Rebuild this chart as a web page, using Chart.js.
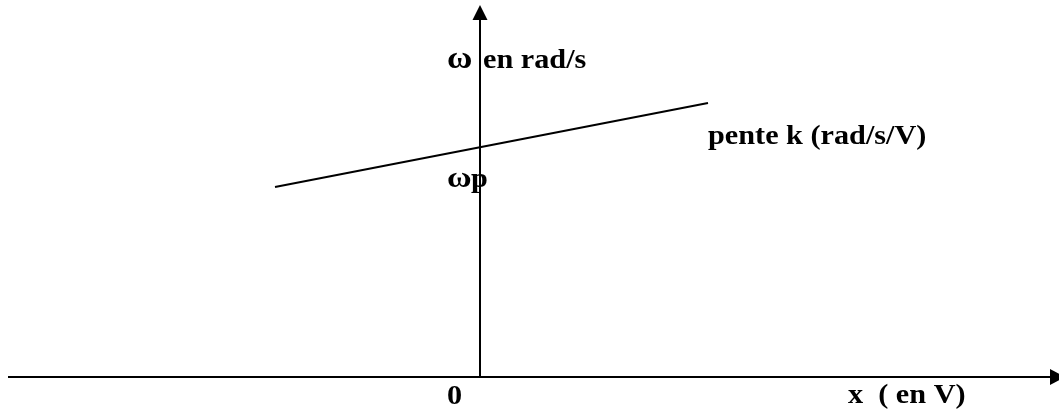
<!DOCTYPE html>
<html>
<head>
<meta charset="utf-8">
<title>ω en fonction de x</title>
<script src="https://cdn.jsdelivr.net/npm/chart.js@4/dist/chart.umd.min.js"></script>
<style>
  html, body { margin: 0; padding: 0; background: #fff; }
  canvas { display: block; }
</style>
</head>
<body>
<canvas id="graph" width="1059" height="412"></canvas>
<script>
// characteristic: omega = omegaP + k * x
const lineX = [-20.5, 22.8];
const lineY = [19.0, 27.4];

// axes (value units), arrow tips just past the ends
const xAxisRange = [-47.2, 57.0];
const yAxisRange = [0, 35.7];
const xArrowTip = 58.5;
const yArrowTip = 37.2;

// text labels: [text, x, y, font size]
const labels = [
  ["ω", -3.3, 30.9, 31],
  ["en rad/s", 0.3, 30.9, 27],
  ["ω", -3.3, 19.0, 30],
  ["p", -0.9, 19.0, 27],
  ["pente k (rad/s/V)", 22.8, 23.3, 27],
  ["0", -3.3, -2.7, 27],
  ["x  ( en V)", 36.8, -2.6, 27],
];

const axisColor = "#000";
const textStretch = 1.12;

const arrowsAndText = {
  id: "arrowsAndText",
  afterDatasetsDraw(chart) {
    const ctx = chart.ctx;
    const xs = chart.scales.x;
    const ys = chart.scales.y;
    const x0 = xs.getPixelForValue(0);
    const y0 = ys.getPixelForValue(0);

    ctx.save();
    ctx.fillStyle = axisColor;

    // arrow on x axis
    const xb = xs.getPixelForValue(xAxisRange[1]);
    const xt = xs.getPixelForValue(xArrowTip);
    ctx.beginPath();
    ctx.moveTo(xt, y0);
    ctx.lineTo(xb, y0 - 8);
    ctx.lineTo(xb, y0 + 8);
    ctx.closePath();
    ctx.fill();

    // arrow on y axis
    const yb = ys.getPixelForValue(yAxisRange[1]);
    const yt = ys.getPixelForValue(yArrowTip);
    ctx.beginPath();
    ctx.moveTo(x0, yt);
    ctx.lineTo(x0 - 7.5, yb);
    ctx.lineTo(x0 + 7.5, yb);
    ctx.closePath();
    ctx.fill();

    ctx.textBaseline = "alphabetic";
    ctx.textAlign = "left";
    labels.forEach(([text, vx, vy, size]) => {
      ctx.save();
      ctx.font = `bold ${size}px 'Liberation Serif', 'Times New Roman', serif`;
      ctx.translate(xs.getPixelForValue(vx), ys.getPixelForValue(vy));
      ctx.scale(textStretch, 1);
      ctx.fillText(text, 0, 0);
      ctx.restore();
    });
    ctx.restore();
  },
};

new Chart(document.getElementById("graph"), {
  type: "scatter",
  data: {
    datasets: [
      {
        data: xAxisRange.map((x) => ({ x, y: 0 })),
        showLine: true,
        borderColor: axisColor,
        borderWidth: 2,
        pointRadius: 0,
      },
      {
        data: yAxisRange.map((y) => ({ x: 0, y })),
        showLine: true,
        borderColor: axisColor,
        borderWidth: 2,
        pointRadius: 0,
      },
      {
        data: lineX.map((x, i) => ({ x, y: lineY[i] })),
        showLine: true,
        borderColor: axisColor,
        borderWidth: 2,
        pointRadius: 0,
      },
    ],
  },
  options: {
    responsive: false,
    animation: false,
    layout: { padding: 0 },
    plugins: {
      legend: { display: false },
      tooltip: { enabled: false },
    },
    scales: {
      x: { type: "linear", min: -48, max: 57.9, display: false },
      y: { type: "linear", min: -3.5, max: 37.7, display: false },
    },
  },
  plugins: [arrowsAndText],
});
</script>
</body>
</html>
